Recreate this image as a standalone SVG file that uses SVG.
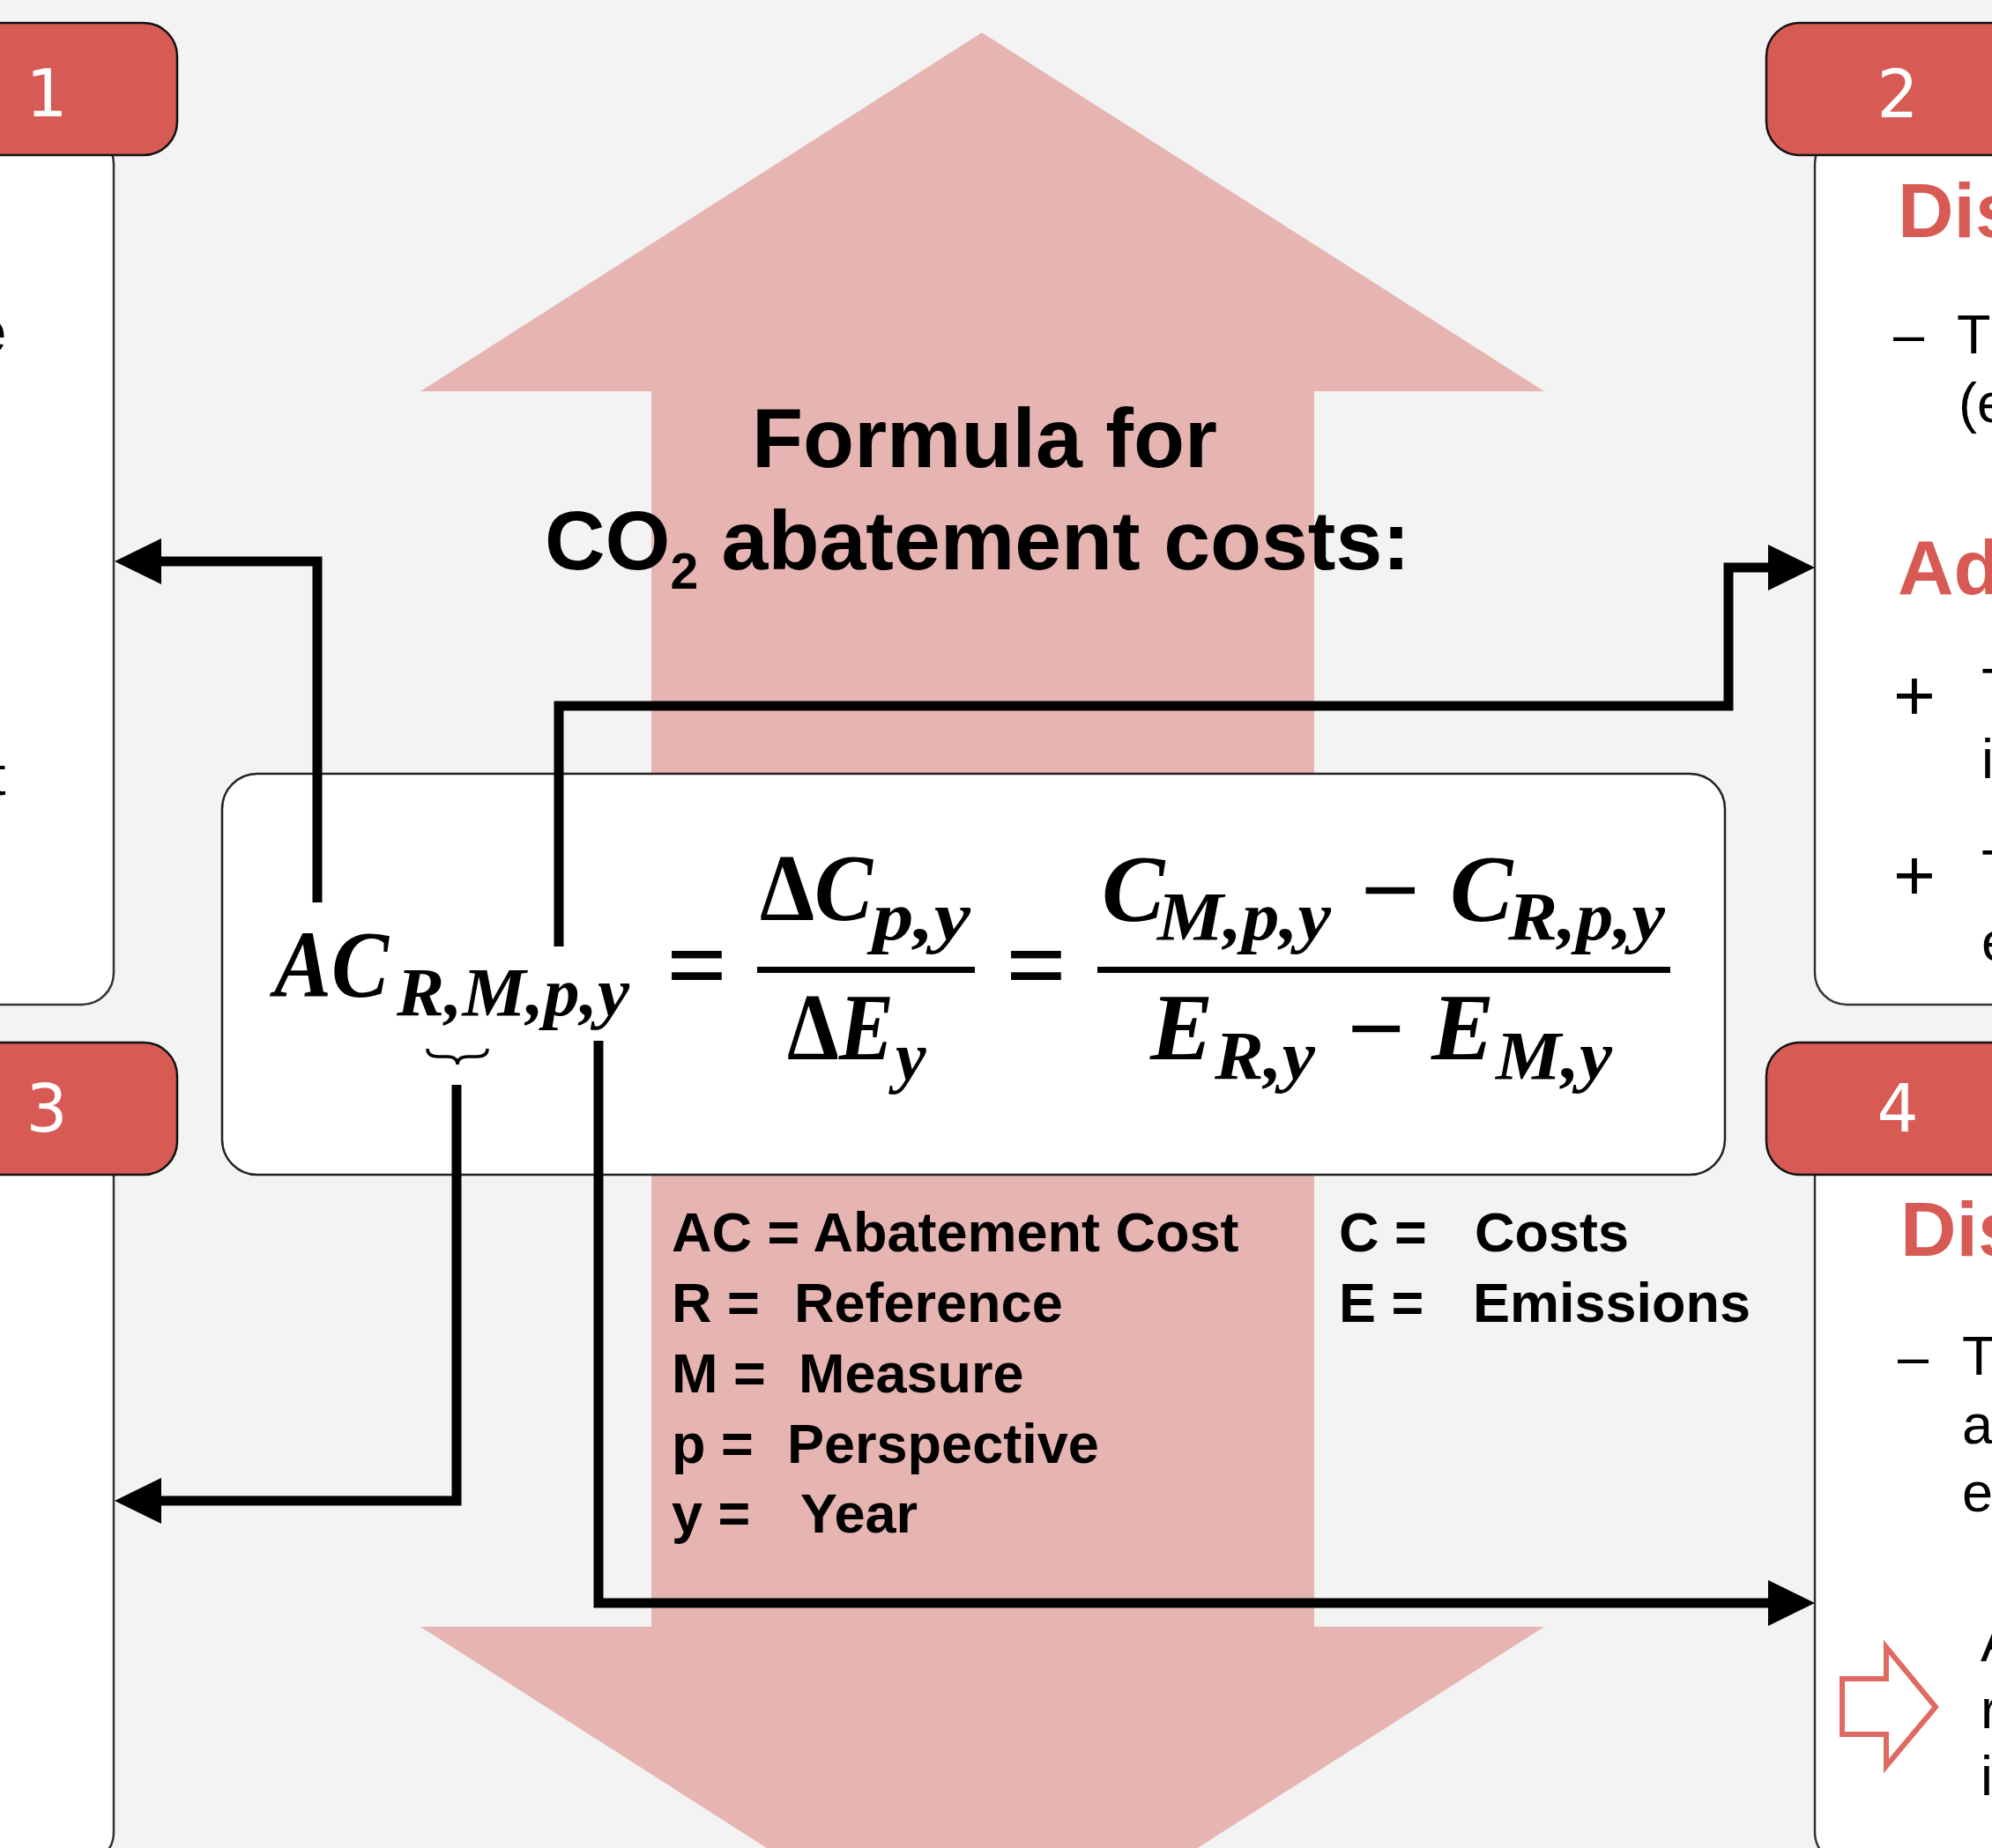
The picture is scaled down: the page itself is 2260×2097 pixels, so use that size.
<svg xmlns="http://www.w3.org/2000/svg" width="2260" height="2097" viewBox="0 0 2260 2097">
<style>
.hdr{fill:#d75b54;stroke:#111;stroke-width:2.5}
.panel{fill:#fff;stroke:#333;stroke-width:2.5}
.num{font-family:"DejaVu Sans",sans-serif;font-size:74px;fill:#fff;text-anchor:middle}
.body{font-family:"Liberation Sans",Arial,sans-serif;font-size:63px;fill:#000}
.plus{font-family:"Liberation Sans",Arial,sans-serif;font-size:82px;fill:#000}
.head{font-family:"Liberation Sans",Arial,sans-serif;font-size:88px;font-weight:bold;fill:#d75b54}
.leg{font-family:"Liberation Sans",Arial,sans-serif;font-size:63px;font-weight:bold;fill:#000}
.title{font-family:"Liberation Sans",Arial,sans-serif;font-size:95px;font-weight:bold;fill:#000}
.m{font-family:"Liberation Serif","Times New Roman",serif;font-weight:bold;font-style:italic;fill:#000}
.big{font-size:107px}
.sub{font-size:78px}
.op{font-family:"Liberation Serif","Times New Roman",serif;font-weight:bold;fill:#000}
.conn{fill:none;stroke:#000;stroke-width:11;stroke-linejoin:miter;stroke-linecap:butt}
</style>
<defs>
<marker id="ah" markerUnits="userSpaceOnUse" markerWidth="56" markerHeight="56" refX="1" refY="26" orient="auto">
<path d="M0,0 L53,26 L0,52 z" fill="#000"/>
</marker>
</defs>
<rect x="0" y="0" width="2260" height="2097" fill="#f3f3f3"/>

<g id="bigArrow">
<polygon points="1114,37 1752,444 1491,444 1491,1846 1752,1846 1114,2253 477,1846 739,1846 739,444 477,444" fill="#e6b4b1"/>
</g>

<g id="panel1">
<rect class="panel" x="-60" y="150" width="189" height="990" rx="36"/>
<rect class="hdr" x="-60" y="26" width="261" height="150" rx="38"/>
<text class="num" x="53" y="132">1</text>
<text x="7" y="401" font-family="Liberation Sans, Arial, sans-serif" font-size="72" font-weight="bold" text-anchor="end">e</text>
<text class="body" x="-11" y="902">t</text>
</g>

<g id="panel2">
<rect class="panel" x="2059" y="150" width="260" height="990" rx="36"/>
<rect class="hdr" x="2004" y="26" width="320" height="150" rx="38"/>
<text class="num" x="2153" y="133">2</text>
<text class="head" x="2153" y="269">Dis</text>
<text class="body" x="2148" y="401">–</text>
<text class="body" x="2220" y="401">T</text>
<text class="body" x="2222" y="479">(e</text>
<text class="head" x="2153" y="674">Ad</text>
<text class="plus" x="2148" y="817">+</text>
<text class="body" x="2248" y="802">T</text>
<text class="body" x="2248" y="883">i</text>
<text class="plus" x="2148" y="1021">+</text>
<text class="body" x="2248" y="1008">T</text>
<text class="body" x="2248" y="1090">e</text>
</g>

<g id="panel3">
<rect class="panel" x="-60" y="1300" width="189" height="815" rx="36"/>
<rect class="hdr" x="-60" y="1183" width="261" height="150" rx="38"/>
<text class="num" x="53" y="1284">3</text>
</g>

<g id="panel4">
<rect class="panel" x="2059" y="1300" width="260" height="815" rx="36"/>
<rect class="hdr" x="2004" y="1183" width="320" height="150" rx="38"/>
<text class="num" x="2153" y="1284">4</text>
<text class="head" x="2156" y="1425">Dis</text>
<text class="body" x="2153" y="1561">–</text>
<text class="body" x="2226" y="1560">T</text>
<text class="body" x="2226" y="1638">a</text>
<text class="body" x="2226" y="1715">e</text>
<polygon points="2090,1905 2140,1905 2140,1869 2196,1937 2140,2004 2140,1968 2090,1968" fill="#fff" stroke="#df6a62" stroke-width="6"/>
<text class="body" x="2247" y="1885">A</text>
<text class="body" x="2247" y="1961">r</text>
<text class="body" x="2247" y="2037">i</text>
</g>

<g id="title">
<text class="title" x="1117" y="530" text-anchor="middle">Formula for</text>
<text class="title" x="618" y="646" font-size="96">CO<tspan font-size="57" dy="22">2</tspan><tspan dy="-22"> abatement costs:</tspan></text>
</g>

<g id="formula">
<rect x="252" y="878" width="1705" height="455" rx="40" fill="#fff" stroke="#222" stroke-width="2.5"/>
<text class="m big" x="311" y="1131" textLength="130" lengthAdjust="spacingAndGlyphs">AC</text>
<text class="m sub" x="450" y="1152" textLength="264" lengthAdjust="spacingAndGlyphs">R,M,p,y</text>
<path d="M485,1190 q0,9 12,9 h10 q12,0 12,9 q0,-9 12,-9 h10 q12,0 12,-9" fill="none" stroke="#000" stroke-width="3.5"/>
<text class="op" x="756" y="1136" font-size="122">=</text>
<text class="m big" x="862" y="1044" textLength="128" lengthAdjust="spacingAndGlyphs"><tspan font-style="normal">Δ</tspan>C</text>
<text class="m sub" x="990" y="1066" textLength="111" lengthAdjust="spacingAndGlyphs">p,y</text>
<rect x="859" y="1097" width="247" height="7" fill="#000"/>
<text class="m big" x="893" y="1202" textLength="121" lengthAdjust="spacingAndGlyphs"><tspan font-style="normal">Δ</tspan>E</text>
<text class="m sub" x="1016" y="1225">y</text>
<text class="op" x="1141" y="1136" font-size="122">=</text>
<text class="m big" x="1250" y="1045">C</text>
<text class="m sub" x="1313" y="1066" textLength="197" lengthAdjust="spacingAndGlyphs">M,p,y</text>
<text class="op" x="1543" y="1046" font-size="107" textLength="68" lengthAdjust="spacingAndGlyphs">−</text>
<text class="m big" x="1645" y="1045">C</text>
<text class="m sub" x="1711" y="1066" textLength="178" lengthAdjust="spacingAndGlyphs">R,p,y</text>
<rect x="1245" y="1097" width="650" height="7" fill="#000"/>
<text class="m big" x="1305" y="1202">E</text>
<text class="m sub" x="1378" y="1224" textLength="114" lengthAdjust="spacingAndGlyphs">R,y</text>
<text class="op" x="1528" y="1203" font-size="107" textLength="66" lengthAdjust="spacingAndGlyphs">−</text>
<text class="m big" x="1624" y="1202">E</text>
<text class="m sub" x="1697" y="1224" textLength="132" lengthAdjust="spacingAndGlyphs">M,y</text>
</g>

<g id="legend">
<text class="leg" x="762" y="1420">AC = Abatement Cost</text>
<text class="leg" x="762" y="1500">R =</text><text class="leg" x="901" y="1500">Reference</text>
<text class="leg" x="762" y="1580">M =</text><text class="leg" x="906" y="1580">Measure</text>
<text class="leg" x="762" y="1660">p =</text><text class="leg" x="893" y="1660">Perspective</text>
<text class="leg" x="762" y="1739">y =</text><text class="leg" x="908" y="1739">Year</text>
<text class="leg" x="1519" y="1420">C =</text><text class="leg" x="1673" y="1420">Costs</text>
<text class="leg" x="1519" y="1500">E =</text><text class="leg" x="1671" y="1500">Emissions</text>
</g>

<g id="connectors">
<path class="conn" d="M360,1024 V637 H182" marker-end="url(#ah)"/>
<path class="conn" d="M634,1074 V801 H1961 V644 H2007" marker-end="url(#ah)"/>
<path class="conn" d="M518,1231 V1703 H182" marker-end="url(#ah)"/>
<path class="conn" d="M679,1181 V1819 H2007" marker-end="url(#ah)"/>
</g>
</svg>
